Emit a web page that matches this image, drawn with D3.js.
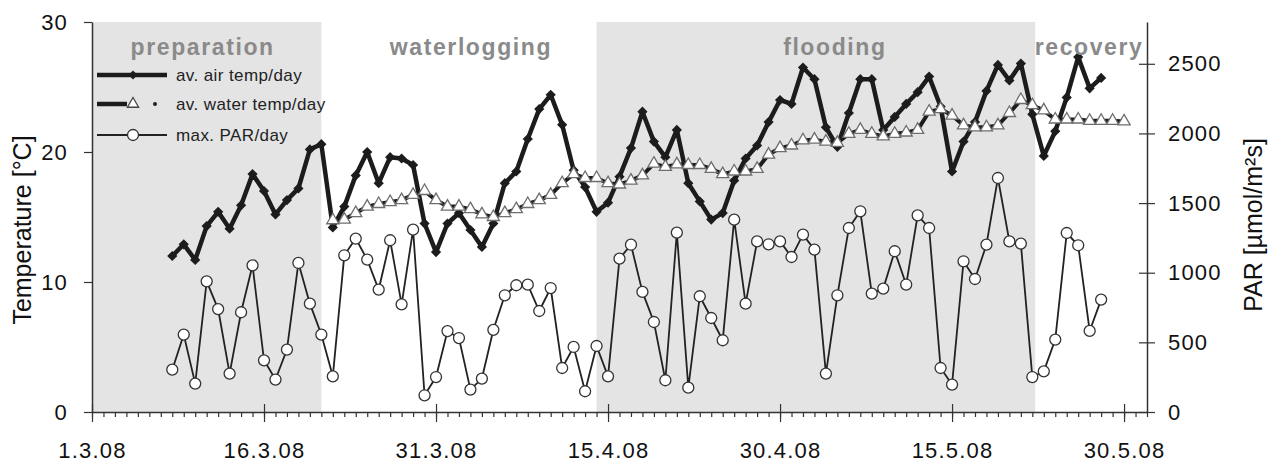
<!DOCTYPE html>
<html>
<head>
<meta charset="utf-8">
<script src="https://cdn.jsdelivr.net/npm/d3@7"></script>
<style>
  body { margin: 0; background: #fff; overflow: hidden; }
  svg { display: block; font-family: "Liberation Sans", Arial, sans-serif; }
</style>
</head>
<body>
<svg id="chart"></svg>
<script>
// ---- data (one value per day, starting at the given date) ----
const airStart = "2008-03-08";
const airTemp = [12.0, 12.9, 11.7, 14.3, 15.4, 14.1, 15.9, 18.3, 17.0, 15.2, 16.3, 17.2, 20.2, 20.6,
  14.2, 15.8, 18.2, 20.0, 17.6, 19.6, 19.5, 19.0, 14.5, 12.3, 14.5, 15.3, 14.0, 12.7, 14.5,
  17.6, 18.5, 21.0, 23.3, 24.4, 22.1, 18.6, 17.3, 15.4, 16.1, 18.1, 20.3, 23.1, 20.8, 19.6,
  21.7, 17.6, 16.2, 14.8, 15.3, 17.8, 19.5, 20.5, 22.3, 24.0, 23.7, 26.5, 25.6, 21.9, 20.4,
  23.0, 25.6, 25.6, 21.7, 22.7, 23.7, 24.6, 25.8, 23.5, 18.5, 20.8, 22.3, 24.7, 26.7, 25.5,
  26.8, 22.9, 19.7, 21.6, 24.2, 27.3, 24.9, 25.7];

const waterStart = "2008-03-22";
const waterTemp = [14.75, 14.8, 15.3, 15.8, 16.0, 16.15, 16.3, 16.7, 17.0, 16.3, 15.8, 15.8, 15.6,
  15.2, 15.0, 15.3, 15.6, 16.0, 16.3, 16.7, 17.6, 18.3, 18.0, 18.0, 17.6, 17.5, 17.8, 18.2,
  19.1, 18.85, 19.05, 19.0, 19.0, 18.7, 18.3, 18.5, 18.5, 18.7, 19.8, 20.3, 20.5, 20.9, 20.95,
  20.8, 20.7, 21.4, 21.7, 21.4, 21.2, 21.4, 21.5, 21.7, 23.1, 23.3, 22.8, 22.05, 21.9, 21.9,
  22.05, 23.0, 24.0, 23.6, 23.2, 22.5, 22.5, 22.5, 22.4, 22.4, 22.4, 22.35];

const parStart = "2008-03-08";
const parMax = [304, 556, 204, 938, 739, 276, 716, 1053, 371, 233, 448, 1070, 778, 556, 256,
  1125, 1245, 1094, 879, 1233, 773, 1309, 120, 251, 581, 531, 161, 240, 590, 838, 910, 914,
  725, 890, 316, 467, 149, 474, 256, 1101, 1201, 862, 646, 228, 1288, 175, 831, 675, 515,
  1381, 778, 1225, 1204, 1225, 1113, 1273, 1166, 276, 838, 1321, 1441, 850, 886, 1154, 915,
  1412, 1321, 316, 197, 1082, 955, 1202, 1680, 1225, 1209, 251, 292, 520, 1285, 1197, 582, 807];

const phaseNames = ["preparation", "waterlogging", "flooding", "recovery"];
const phaseStarts = ["2008-03-01T00:00", "2008-03-21T00:00", "2008-04-14T00:00", "2008-05-22T06:00"];
const phaseShaded = [true, false, true, false];

const xTicks = ["2008-03-01", "2008-03-16", "2008-03-31", "2008-04-15", "2008-04-30", "2008-05-15", "2008-05-30"];
const tempTicks = [0, 10, 20, 30];
const parTicks = [0, 500, 1000, 1500, 2000, 2500];

const legendLabels = ["av. air temp/day", "av. water temp/day", "max. PAR/day"];

// ---- layout ----
const w = 1278, h = 473;
const margin = { top: 22, bottom: 61, left: 92, right: 131 };
const innerWidth = w - margin.left - margin.right;
const innerHeight = h - margin.top - margin.bottom;

const parseDay = d3.timeParse("%Y-%m-%d");
const parseTime = d3.timeParse("%Y-%m-%dT%H:%M");
const xStart = parseDay("2008-03-01");
const xEnd = parseDay("2008-06-01");

function toPoints(start, values) {
  const s = parseDay(start);
  return values.map((v, i) => ({ date: d3.timeDay.offset(s, i), value: v }));
}
const airData = toPoints(airStart, airTemp);
const waterData = toPoints(waterStart, waterTemp);
const parData = toPoints(parStart, parMax);

const svg = d3.select("#chart").attr("width", w).attr("height", h);
const g = svg.append("g").attr("transform", `translate(${margin.left},${margin.top})`);

const xScale = d3.scaleTime().domain([xStart, xEnd]).range([0, innerWidth]);
const yTemp = d3.scaleLinear().domain([0, 30]).range([innerHeight, 0]);
const yPar = d3.scaleLinear().domain([0, 2800]).range([innerHeight, 0]);

// phase bands
const phases = phaseNames.map((name, i) => ({
  name: name,
  start: parseTime(phaseStarts[i]),
  end: i < phaseNames.length - 1 ? parseTime(phaseStarts[i + 1]) : xEnd,
  shaded: phaseShaded[i]
}));

g.selectAll("rect.band")
  .data(phases.filter(d => d.shaded))
  .enter().append("rect")
  .attr("class", "band")
  .attr("x", d => xScale(d.start))
  .attr("y", 0)
  .attr("width", d => xScale(d.end) - xScale(d.start))
  .attr("height", innerHeight)
  .attr("fill", "#e4e4e4");

// axes
const axisColor = "#333";

// minor day ticks (no labels)
const allDays = d3.timeDay.range(xStart, d3.timeDay.offset(xEnd, 1));
const xMinor = g.append("g")
  .attr("transform", `translate(0,${innerHeight})`)
  .call(d3.axisBottom(xScale).tickValues(allDays).tickSize(5).tickSizeOuter(0));
xMinor.selectAll(".tick text").remove();

// major ticks, crossing the axis
const majorDates = xTicks.map(parseDay);
const xMajor = g.append("g")
  .attr("transform", `translate(0,${innerHeight})`)
  .call(d3.axisBottom(xScale).tickValues(majorDates).tickSize(10).tickSizeOuter(0)
    .tickFormat(d3.timeFormat("%-d.%-m.%y")));
xMajor.selectAll(".tick line").attr("y1", -8);
xMajor.selectAll(".tick text").attr("y", 30);

const yLeft = g.append("g")
  .call(d3.axisLeft(yTemp).tickValues(tempTicks).tickSize(8).tickSizeOuter(0).tickPadding(16));

const yRight = g.append("g")
  .attr("transform", `translate(${innerWidth},0)`)
  .call(d3.axisRight(yPar).tickValues(parTicks).tickSize(8).tickSizeOuter(0).tickPadding(13)
    .tickFormat(d3.format("d")));
yRight.selectAll(".tick line").attr("x1", -8);

[xMinor, xMajor, yLeft, yRight].forEach(a => {
  a.select(".domain").attr("stroke", axisColor).attr("stroke-width", 1.5);
  a.selectAll(".tick line").attr("stroke", axisColor).attr("stroke-width", 1.2);
  a.selectAll(".tick text")
    .attr("fill", "#111")
    .style("font-size", "22px")
    .style("letter-spacing", "1.2px")
    .style("font-family", '"Liberation Sans", Arial, sans-serif');
});
xMinor.select(".domain").remove();

// series
const lineOf = y => d3.line().x(d => xScale(d.date)).y(d => y(d.value));

// air temp
g.append("path")
  .datum(airData)
  .attr("d", lineOf(yTemp))
  .attr("fill", "none")
  .attr("stroke", "#1c1c1c")
  .attr("stroke-width", 4.5)
  .attr("stroke-linejoin", "round");
g.selectAll("path.air")
  .data(airData)
  .enter().append("path")
  .attr("class", "air")
  .attr("d", d3.symbol(d3.symbolSquare, 52))
  .attr("transform", d => `translate(${xScale(d.date)},${yTemp(d.value)}) rotate(45)`)
  .attr("fill", "#1c1c1c");

// water temp
g.append("path")
  .datum(waterData)
  .attr("d", lineOf(yTemp))
  .attr("fill", "none")
  .attr("stroke", "#1c1c1c")
  .attr("stroke-width", 4)
  .attr("stroke-linejoin", "round");
g.selectAll("path.water")
  .data(waterData)
  .enter().append("path")
  .attr("class", "water")
  .attr("d", d3.symbol(d3.symbolTriangle, 64))
  .attr("transform", d => `translate(${xScale(d.date)},${yTemp(d.value)})`)
  .attr("fill", "#fff")
  .attr("stroke", "#6e6e6e")
  .attr("stroke-width", 1.3);

// PAR
g.append("path")
  .datum(parData)
  .attr("d", lineOf(yPar))
  .attr("fill", "none")
  .attr("stroke", "#222")
  .attr("stroke-width", 1.8);
g.selectAll("circle.par")
  .data(parData)
  .enter().append("circle")
  .attr("class", "par")
  .attr("cx", d => xScale(d.date))
  .attr("cy", d => yPar(d.value))
  .attr("r", 5.5)
  .attr("fill", "#fff")
  .attr("stroke", "#333")
  .attr("stroke-width", 1.3);

// phase labels
const labelShift = [-4, 12, 19, -2];
g.selectAll("text.phase")
  .data(phases)
  .enter().append("text")
  .attr("class", "phase")
  .attr("x", (d, i) => (xScale(d.start) + xScale(d.end)) / 2 + labelShift[i])
  .attr("y", 33)
  .attr("text-anchor", "middle")
  .style("font-size", "23px")
  .style("font-weight", "bold")
  .style("letter-spacing", "1.6px")
  .attr("fill", "#8a8a8a")
  .text(d => d.name);

// legend
const leg = svg.append("g").attr("transform", "translate(97,0)");
const legRows = [75, 104, 135];

leg.append("line").attr("x1", 0).attr("x2", 70).attr("y1", legRows[0]).attr("y2", legRows[0])
  .attr("stroke", "#1c1c1c").attr("stroke-width", 4.5);
leg.append("path").attr("d", d3.symbol(d3.symbolSquare, 40))
  .attr("transform", `translate(36,${legRows[0]}) rotate(45)`).attr("fill", "#1c1c1c");

leg.append("line").attr("x1", 0).attr("x2", 30).attr("y1", legRows[1]).attr("y2", legRows[1])
  .attr("stroke", "#1c1c1c").attr("stroke-width", 4.5);
leg.append("path").attr("d", d3.symbol(d3.symbolTriangle, 55))
  .attr("transform", `translate(36,${legRows[1]})`)
  .attr("fill", "#fff").attr("stroke", "#444").attr("stroke-width", 1.3);
leg.append("circle").attr("cx", 58).attr("cy", legRows[1]).attr("r", 2).attr("fill", "#222");

leg.append("line").attr("x1", 0).attr("x2", 70).attr("y1", legRows[2]).attr("y2", legRows[2])
  .attr("stroke", "#222").attr("stroke-width", 1.8);
leg.append("circle").attr("cx", 36).attr("cy", legRows[2]).attr("r", 5.5)
  .attr("fill", "#fff").attr("stroke", "#333").attr("stroke-width", 1.3);

leg.selectAll("text.leg")
  .data(legendLabels)
  .enter().append("text")
  .attr("class", "leg")
  .attr("x", 79)
  .attr("y", (d, i) => legRows[i] + 6)
  .style("font-size", "17px")
  .style("letter-spacing", "0.4px")
  .attr("fill", "#222")
  .text(d => d);

// axis titles
svg.append("text")
  .attr("transform", "translate(31,230) rotate(-90)")
  .attr("text-anchor", "middle")
  .style("font-size", "25px")
  .attr("fill", "#111")
  .text("Temperature [°C]");

svg.append("text")
  .attr("transform", "translate(1262,225) rotate(-90)")
  .attr("text-anchor", "middle")
  .style("font-size", "25px")
  .attr("fill", "#111")
  .text("PAR [µmol/m²s]");
</script>
</body>
</html>
